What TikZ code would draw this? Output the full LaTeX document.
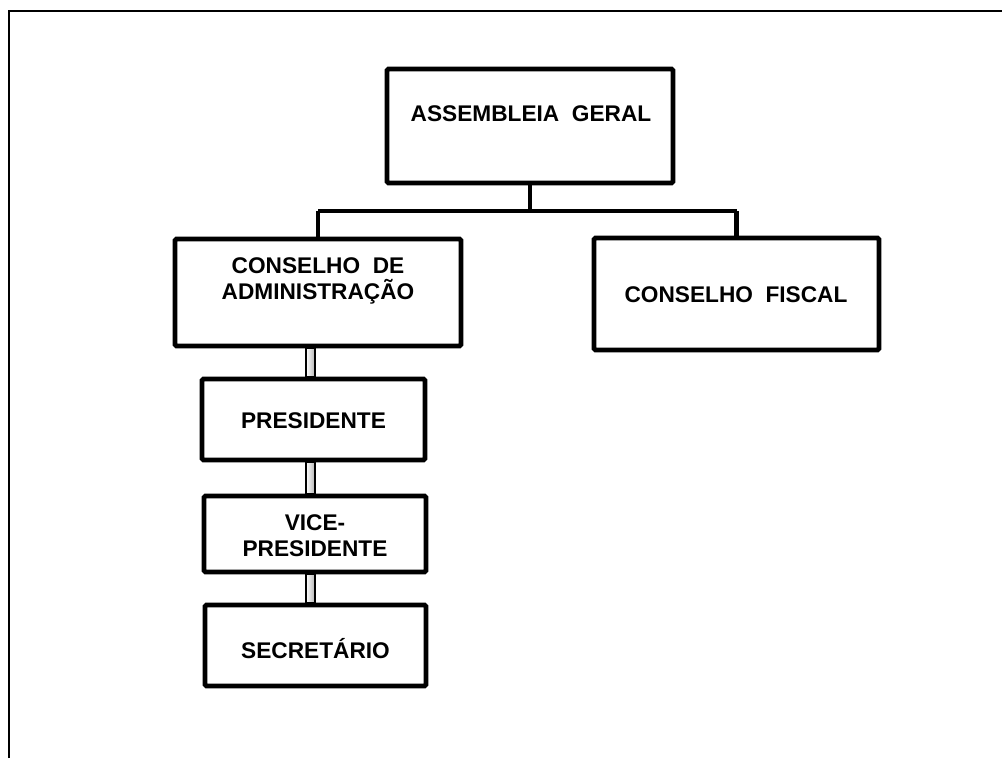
\documentclass[tikz,border=0pt]{standalone}
\usepackage{fontspec}
\setmainfont{Liberation Sans}
\tikzset{every picture/.style={line width=0.75pt}}
\tikzset{
  cargo/.style={draw, line width=3.5pt, rounded corners=1pt, fill=white, inner sep=0pt},
  rotulo/.style={inner sep=0.75pt, align=center, font=\bfseries\fontsize{17}{19.5}\selectfont},
  ramo/.style={line width=3.2pt},
  tubo/.style={draw, line width=1.1pt, left color=white, right color=black!30}
}

\begin{document}
\begin{tikzpicture}[x=0.75pt,y=0.75pt,yscale=-1,xscale=1]
\useasboundingbox (0,0) rectangle (1002,758);

%Frame
\draw [line width=1.5pt] (9,758) -- (9,11) -- (1002,11) ;

%Shape: Rectangle
\node [cargo, minimum width=214.5pt, minimum height=85.5pt] (assembleia) at (530,126) {};
%Shape: Rectangle
\node [cargo, minimum width=214.5pt, minimum height=80.25pt] (administracao) at (318,292.5) {};
%Shape: Rectangle
\node [cargo, minimum width=213.75pt, minimum height=84pt] (fiscal) at (736.5,294) {};
%Shape: Rectangle
\node [cargo, minimum width=167.25pt, minimum height=60.75pt] (presidente) at (313.5,419.5) {};
%Shape: Rectangle
\node [cargo, minimum width=166.5pt, minimum height=57pt] (vice) at (315,534) {};
%Shape: Rectangle
\node [cargo, minimum width=165.75pt, minimum height=60.75pt] (secretario) at (315.5,645.5) {};

% Text Node
\node [rotulo] (tassembleia) at (531,114) {ASSEMBLEIA~~GERAL};
% Text Node
\node [rotulo] (tadministracao) at (318,281) {CONSELHO~~DE\\ADMINISTRAÇÃO};
% Text Node
\node [rotulo] (tfiscal) at (736,295) {CONSELHO~~FISCAL};
% Text Node
\node [rotulo] (tpresidente) at (313.5,421) {PRESIDENTE};
% Text Node
\node [rotulo] (tvice) at (315,536) {VICE-\\PRESIDENTE};
% Text Node
\node [rotulo] (tsecretario) at (315.5,649) {SECRETÁRIO};

%Straight Lines
\draw [ramo] (assembleia.south) -- ++(0,26) coordinate (barra) ;
\draw [ramo] (barra -| administracao.north) -- (barra -| fiscal.north) ;
\draw [ramo] (barra -| administracao.north) -- (administracao.north) ;
\draw [ramo] (barra -| fiscal.north) -- (fiscal.north) ;

%Shape: Rectangle
\path [tubo] (306,0 |- administracao.south) rectangle (315,0 |- presidente.north) ;
%Shape: Rectangle
\path [tubo] (306,0 |- presidente.south) rectangle (315,0 |- vice.north) ;
%Shape: Rectangle
\path [tubo] (306,0 |- vice.south) rectangle (315,0 |- secretario.north) ;

\end{tikzpicture}
\end{document}
